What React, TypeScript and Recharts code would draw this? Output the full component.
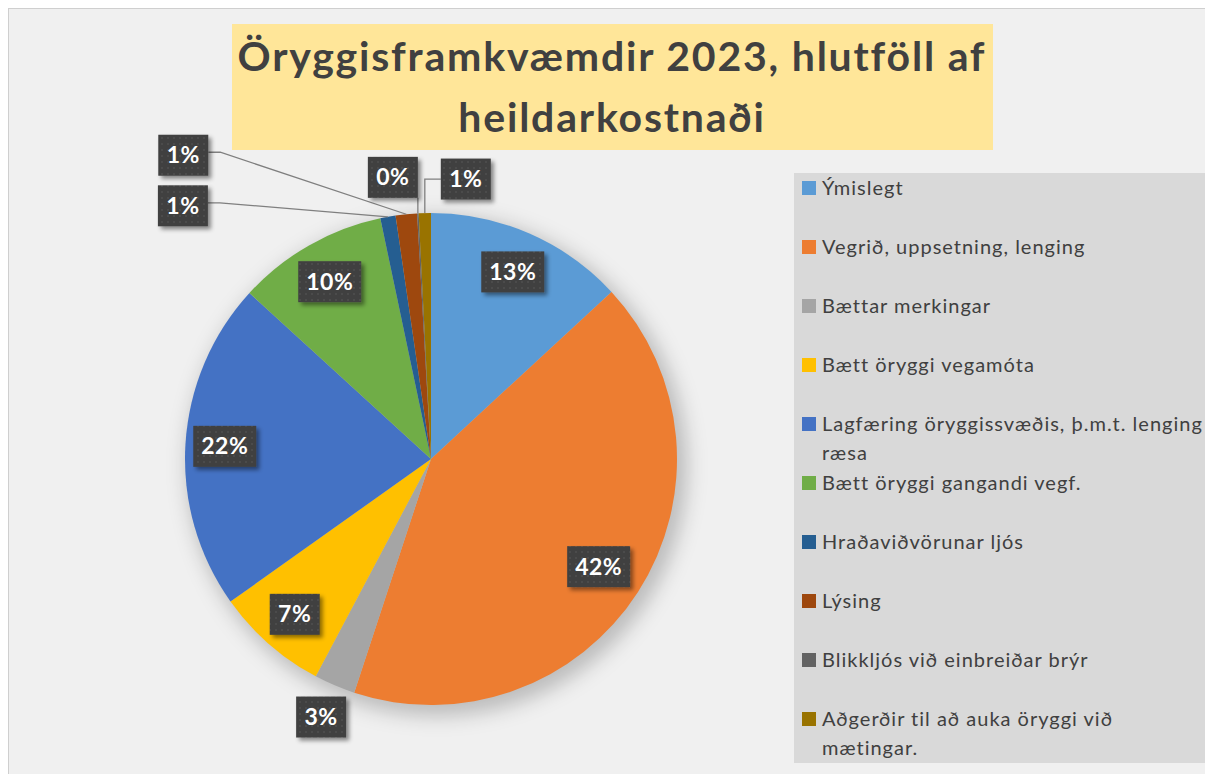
import React from 'react';
import { PieChart, Pie, Cell, Legend } from 'recharts';

const categories = [
  'Ýmislegt',
  'Vegrið, uppsetning, lenging',
  'Bættar merkingar',
  'Bætt öryggi vegamóta',
  'Lagfæring öryggissvæðis, þ.m.t. lenging ræsa',
  'Bætt öryggi gangandi vegf.',
  'Hraðaviðvörunar ljós',
  'Lýsing',
  'Blikkljós við einbreiðar brýr',
  'Aðgerðir til að auka öryggi við mætingar.',
];
const shares = [13.1, 41.9, 2.7, 7.4, 21.6, 9.9, 1.0, 1.4, 0.1, 0.8];
const colors = ['#5b9bd5', '#ed7d31', '#a5a5a5', '#ffc000', '#4472c4', '#70ad47', '#255e91', '#9e480e', '#636363', '#997300'];
const titleLines = ['Öryggisframkvæmdir 2023, hlutföll af', 'heildarkostnaði'];

const data = categories.map((name, i) => ({ name, value: shares[i] }));
const shadowData = [{ name: 'shadow', value: 1 }];

// label placement (layout only)
const labelPlacement: any[] = [
  { mode: 'in', r: 0.83 },
  { mode: 'in', r: 0.81 },
  { mode: 'in', r: 1.14 },
  { mode: 'in', r: 0.84 },
  { mode: 'in', r: 0.84 },
  { mode: 'in', r: 0.83 },
  { mode: 'call', dx: -205, dy: -11, line: 'elbow' },
  { mode: 'call', dx: -223, dy: -59, line: 'elbow' },
  { mode: 'call', dx: -25, dy: -36, line: 'vert' },
  { mode: 'call', dx: 41, dy: -34, line: 'hv' },
];

const RADIAN = Math.PI / 180;
const FONT = 'Lato, "Open Sans", sans-serif';

function renderLabel(props: any) {
  const { cx, cy, midAngle, outerRadius, percent, index } = props;
  const p = labelPlacement[index];
  const cos = Math.cos(-midAngle * RADIAN);
  const sin = Math.sin(-midAngle * RADIAN);
  const text = `${Math.round(percent * 100)}%`;
  const w = 24 + 13 * text.length;
  const h = 41;
  let bx: number;
  let by: number;
  let line: any = null;
  if (p.mode === 'call') {
    const px = cx + outerRadius * cos;
    const py = cy + outerRadius * sin;
    bx = px + p.dx;
    by = py + p.dy;
    let d = '';
    if (p.line === 'elbow') {
      const sx = bx + w / 2;
      d = `M${sx},${by - 3} L${sx + 12},${by - 3} L${px},${py}`;
    } else if (p.line === 'vert') {
      d = `M${px},${py} L${px},${by + h / 2}`;
    } else {
      d = `M${px},${py} L${px},${by} L${bx - w / 2},${by}`;
    }
    line = <path d={d} stroke="#7f7f7f" strokeWidth={1.3} fill="none" />;
  } else {
    bx = cx + outerRadius * p.r * cos;
    by = cy + outerRadius * p.r * sin;
  }
  return (
    <g key={`lbl-${index}`}>
      {line}
      <rect x={bx - w / 2} y={by - h / 2} width={w} height={h} fill="url(#lblPattern)" filter="url(#lblShadow)" />
      <text x={bx} y={by} dy={8} textAnchor="middle" fill="#ffffff" fontSize={23} fontWeight={700} fontFamily={FONT} letterSpacing={0.5}>
        {text}
      </text>
    </g>
  );
}

function LegendContent() {
  return (
    <div style={{ position: 'relative', width: '100%', height: '100%' }}>
      {categories.map((name, i) => (
        <div
          key={name}
          style={{
            position: 'absolute',
            left: 8,
            top: i * 59,
            width: 410,
            display: 'flex',
            alignItems: 'flex-start',
            fontFamily: FONT,
            fontSize: 20,
            letterSpacing: 1,
            lineHeight: '29px',
            color: '#404040',
          }}
        >
          <span style={{ display: 'inline-block', width: 14, height: 14, background: colors[i], marginTop: 8, marginRight: 6, flex: '0 0 14px' }} />
          <span style={{ width: 388, flex: '0 0 388px' }}>{name}</span>
        </div>
      ))}
    </div>
  );
}

export default function App() {
  return (
    <div
      style={{
        position: 'relative',
        width: 1205,
        height: 766,
        background: '#f0f0f0',
        borderTop: '1px solid #cfcfcf',
        borderLeft: '1px solid #cfcfcf',
        boxSizing: 'border-box',
        overflow: 'hidden',
      }}
    >
      <svg width={0} height={0} style={{ position: 'absolute' }}>
        <defs>
          <pattern id="lblPattern" width="6" height="6" patternUnits="userSpaceOnUse">
            <rect width="6" height="6" fill="#404040" />
            <rect x="2" y="2" width="2" height="2" fill="#4c4c4c" />
          </pattern>
          <filter id="lblShadow" x="-30%" y="-30%" width="160%" height="160%">
            <feDropShadow dx="3" dy="3" stdDeviation="2" floodColor="#000" floodOpacity="0.45" />
          </filter>
          <filter id="pieBlur" x="-20%" y="-20%" width="140%" height="140%">
            <feGaussianBlur stdDeviation="10" />
          </filter>
        </defs>
      </svg>
      <div style={{ position: 'absolute', left: 0, top: 0 }}>
        <PieChart width={1204} height={765} margin={{ top: 0, right: 0, bottom: 0, left: 0 }}>
          <Pie
            data={shadowData}
            dataKey="value"
            cx={428}
            cy={457}
            outerRadius={250}
            startAngle={90}
            endAngle={-270}
            stroke="none"
            isAnimationActive={false}
            legendType="none"
            label={false}
          >
            <Cell fill="#000000" fillOpacity={0.22} filter="url(#pieBlur)" />
          </Pie>
          <Pie
            data={data}
            dataKey="value"
            nameKey="name"
            cx={422}
            cy={450}
            outerRadius={246}
            startAngle={90}
            endAngle={-270}
            stroke="none"
            isAnimationActive={false}
            labelLine={false}
            label={renderLabel}
          >
            {data.map((d, i) => (
              <Cell key={d.name} fill={colors[i]} />
            ))}
          </Pie>
          <Legend
            layout="vertical"
            align="right"
            verticalAlign="top"
            content={() => <LegendContent />}
            wrapperStyle={{ position: 'absolute', left: 785, top: 164, width: 415, height: 590, background: '#d9d9d9' }}
          />
        </PieChart>
      </div>
      <div style={{ position: 'absolute', left: 223, top: 15, width: 761, height: 126, background: '#ffe699' }}>
        <svg width={761} height={126}>
          {titleLines.map((t, i) => (
            <text
              key={t}
              x={380}
              y={47 + i * 61}
              textAnchor="middle"
              fill="#404040"
              fontFamily={FONT}
              fontWeight={700}
              fontSize={41}
              letterSpacing={1.8}
            >
              {t}
            </text>
          ))}
        </svg>
      </div>
    </div>
  );
}
